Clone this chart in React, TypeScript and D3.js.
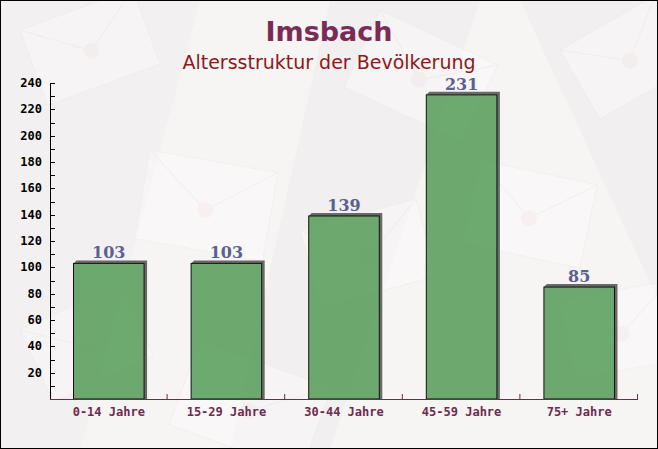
import React from 'react';
import * as d3 from 'd3';

const categories = ['0-14 Jahre', '15-29 Jahre', '30-44 Jahre', '45-59 Jahre', '75+ Jahre'];
const values = [103, 103, 139, 231, 85];
const yTicks = [20, 40, 60, 80, 100, 120, 140, 160, 180, 200, 220, 240];

const W = 658;
const H = 449;
const margin = { top: 83, right: 20, bottom: 50, left: 50 };

// faint envelope shapes in the background
const envelopes = [
  { x: 20, y: 30, w: 120, h: 80, r: -20 },
  { x: 380, y: 10, w: 130, h: 85, r: 25 },
  { x: 560, y: 50, w: 110, h: 80, r: -30 },
  { x: 150, y: 150, w: 130, h: 90, r: 10 },
  { x: 300, y: 230, w: 120, h: 80, r: -15 },
  { x: 480, y: 160, w: 120, h: 85, r: 12 },
  { x: 20, y: 330, w: 110, h: 80, r: -25 },
  { x: 200, y: 340, w: 140, h: 90, r: 20 },
  { x: 560, y: 300, w: 110, h: 80, r: -10 },
];

const App: React.FC = () => {
  const innerW = W - margin.left - margin.right;
  const innerH = H - margin.top - margin.bottom;
  const x = d3.scaleBand<string>().domain(categories).range([0, innerW]).paddingInner(0.4).paddingOuter(0.2);
  const xb = d3.scaleBand<string>().domain(categories).range([0, innerW]);
  const y = d3.scaleLinear().domain([0, 240]).range([innerH, 0]);
  const minor = d3.range(10, 241, 10);
  const shadow = 3;

  return (
    <div style={{ position: 'absolute', left: 0, top: 0 }}>
      <svg width={W} height={H} style={{ display: 'block' }}>
        <rect x={0} y={0} width={W} height={H} fill="#f7f4f4" />
        <polygon points="0,0 200,0 80,449 0,449" fill="#efebee" opacity={0.5} />
        <polygon points="330,0 480,0 330,449 230,449" fill="#ece8ec" opacity={0.4} />
        <polygon points="520,0 658,0 658,300" fill="#eeeaed" opacity={0.5} />
        {envelopes.map((e, i) => (
          <g key={i} transform={`translate(${e.x},${e.y}) rotate(${e.r})`} opacity={0.45}>
            <rect width={e.w} height={e.h} fill="#fcfbfb" stroke="#eeeaea" />
            <polyline points={`0,0 ${e.w / 2},${e.h * 0.55} ${e.w},0`} fill="none" stroke="#efe9e9" />
            <circle cx={e.w / 2} cy={e.h * 0.55} r={8} fill="#f5ecec" />
          </g>
        ))}
        <rect x={0.5} y={0.5} width={W - 1} height={H - 1} fill="none" stroke="#000" />

        <text x={329} y={41} textAnchor="middle" fontFamily="DejaVu Sans" fontWeight="bold" fontSize={27} fill="#7b2c55">
          Imsbach
        </text>
        <text x={329} y={69} textAnchor="middle" fontFamily="DejaVu Sans" fontSize={19} fill="#8b1a1a">
          Altersstruktur der Bevölkerung
        </text>

        <g transform={`translate(${margin.left},${margin.top})`}>
          {categories.map((c, i) => {
            const bx = x(c)!;
            const bw = x.bandwidth();
            const by = y(values[i]);
            const bh = innerH - by;
            return (
              <g key={c}>
                <polygon
                  points={`${bx},${by} ${bx + shadow},${by - shadow} ${bx + bw + shadow},${by - shadow} ${bx + bw + shadow},${innerH} ${bx + bw},${innerH} ${bx + bw},${by}`}
                  fill="#5a5a5a"
                  opacity={0.9}
                />
                <rect x={bx} y={by} width={bw} height={bh} fill="#4e9850" fillOpacity={0.82} stroke="#111" strokeWidth={1} />
                <text x={bx + bw / 2} y={by - 5} textAnchor="middle" fontFamily="DejaVu Serif" fontWeight="bold" fontSize={16} fill="#5a6191">
                  {values[i]}
                </text>
              </g>
            );
          })}

          {/* y axis */}
          <line x1={0.5} x2={0.5} y1={0} y2={innerH} stroke="#000" />
          {minor.map(t => (
            <line key={t} x1={0} x2={5} y1={Math.round(y(t)) + 0.5} y2={Math.round(y(t)) + 0.5} stroke="#000" />
          ))}
          {yTicks.map(t => (
            <text key={t} x={-8} y={y(t) + 4} textAnchor="end" fontFamily="DejaVu Sans Mono" fontWeight="bold" fontSize={12} fill="#000">
              {t}
            </text>
          ))}

          {/* x axis */}
          <line x1={0} x2={innerW} y1={innerH + 0.5} y2={innerH + 0.5} stroke="#6b2c4e" />
          {categories.map(c => (
            <line key={c} x1={xb(c)! + xb.bandwidth() - 0.5} x2={xb(c)! + xb.bandwidth() - 0.5} y1={innerH} y2={innerH - 5} stroke="#6b2c4e" />
          ))}
          {categories.map(c => (
            <text key={c} x={xb(c)! + xb.bandwidth() / 2} y={innerH + 17} textAnchor="middle" fontFamily="DejaVu Sans Mono" fontWeight="bold" fontSize={12} fill="#6b2c4e">
              {c}
            </text>
          ))}
        </g>
      </svg>
    </div>
  );
};

export default App;
